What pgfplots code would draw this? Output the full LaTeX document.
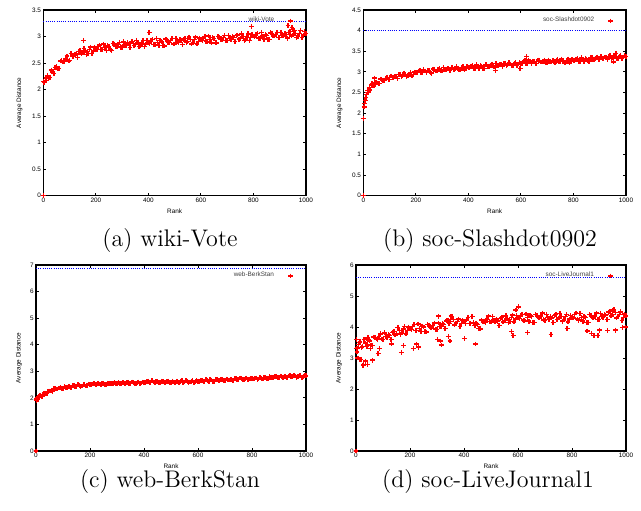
\documentclass[border=0pt]{standalone}
\usepackage{fontspec}
\usepackage{pgfplots}
\pgfplotsset{compat=1.18}
\newfontfamily\hv{Liberation Sans}
\newcommand\tk{\hv\fontsize{3.2}{3.8}\selectfont}
\newcommand\capfont{\fontsize{12}{14}\selectfont}
\pgfplotsset{
  gp/.style={
    scale only axis,
    anchor=south west,
    xmin=0, xmax=1000, ymin=0,
    xtick={0,200,...,1000},
    tick align=inside,
    major tick length=1.5pt,
    axis line style={line width=0.6pt},
    tick style={black, line width=0.5pt},
    tick label style={font=\tk, inner sep=1pt},
    label style={font=\tk},
    /pgf/number format/assume math mode=true,
    /pgf/number format/1000 sep={},
    xlabel={Rank},
    ylabel={Average Distance},
    legend plot pos=right,
    legend cell align=right,
    legend style={draw=none, fill=none, font=\tk, text=black!75, anchor=north east, inner sep=1pt,
      row sep=0pt, nodes={inner sep=1pt}, /tikz/column 1/.style={column sep=6pt}},
    clip=false,
  },
  pts/.style={only marks, mark=+, mark size=1.2pt, color=red,
    mark options={solid, draw=red, line width=0.7pt}},
  ref/.style={blue, line width=0.5pt, dash pattern=on 0.5pt off 0.6pt, forget plot},
}
\begin{document}
\begin{tikzpicture}
\path[use as bounding box] (0,0) rectangle (320.5pt,255pt);

% (a) wiki-Vote
\begin{axis}[gp, at={(21.67pt,157.15pt)}, width=131.3pt, height=92.85pt,
  ymax=3.5, ytick={0,0.5,...,3.5},
  ylabel style={at={(axis description cs:-0.091,0.5)}, anchor=center},
  xlabel style={at={(axis description cs:0.5,-0.085)}, anchor=center},
  legend style={at={(axis description cs:0.96,0.985)}}]
\addplot[ref] coordinates {(0,3.29) (1000,3.29)};
\addplot[pts] coordinates {
(0,0) (1,2.15) (10,2.22) (20,2.21) (30,2.37) (40,2.30) (50,2.43) (60,2.40)
(70,2.55) (80,2.53) (90,2.63) (100,2.55) (110,2.62) (120,2.67) (130,2.60) (140,2.73) (150,2.69)
(160,2.73) (170,2.68) (180,2.80) (190,2.73) (200,2.77) (210,2.81) (220,2.75) (230,2.86)
(240,2.74) (250,2.81) (260,2.74) (270,2.86) (280,2.81) (290,2.89) (300,2.80) (310,2.84) (320,2.88)
(330,2.79) (340,2.91) (350,2.85) (360,2.88) (370,2.83) (380,2.93) (390,2.86) (400,2.89)
(410,2.92) (420,2.85) (430,2.96) (440,2.83) (450,2.90) (460,2.82) (470,2.94) (480,2.89) (490,2.96)
(500,2.86) (510,2.90) (520,2.94) (530,2.85) (540,2.96) (550,2.91) (560,2.94) (570,2.88) (580,2.99)
(590,2.91) (600,2.94) (610,2.97) (620,2.91) (630,3.01) (640,2.88) (650,2.96) (660,2.88) (670,2.99)
(680,2.95) (690,3.02) (700,2.92) (710,2.96) (720,3.00) (730,2.91) (740,3.03) (750,2.97) (760,3.00)
(770,2.95) (780,3.05) (790,2.98) (800,3.01) (810,3.04) (820,2.97) (830,3.08) (840,2.95)
(850,3.02) (860,2.94) (870,3.06) (880,3.01) (890,3.08) (900,2.98) (910,3.02) (920,3.06) (930,2.97)
(940,3.09) (950,3.03) (960,3.06) (970,3.00) (980,3.11) (990,3.03) (1000,3.06)
(5,2.14) (15,2.27) (25,2.23) (35,2.33) (45,2.42) (55,2.39) (65,2.54) (75,2.52) (85,2.58) (95,2.54)
(105,2.68) (115,2.62) (125,2.67) (135,2.72) (145,2.67) (155,2.78) (165,2.66) (175,2.75) (185,2.68) (195,2.80)
(205,2.76) (215,2.84) (225,2.75) (235,2.80) (245,2.83) (255,2.75) (265,2.87) (275,2.81) (285,2.85) (295,2.80)
(305,2.90) (315,2.83) (325,2.86) (335,2.90) (345,2.83) (355,2.93) (365,2.81) (375,2.88) (385,2.81) (395,2.92)
(405,2.87) (415,2.94) (425,2.85) (435,2.89) (445,2.92) (455,2.83) (465,2.95) (475,2.89) (485,2.92) (495,2.86)
(505,2.96) (515,2.89) (525,2.92) (535,2.95) (545,2.89) (555,2.99) (565,2.86) (575,2.94) (585,2.86) (595,2.97)
(605,2.92) (615,3.00) (625,2.90) (635,2.94) (645,2.98) (655,2.89) (665,3.00) (675,2.95) (685,2.98) (695,2.92)
(705,3.02) (715,2.95) (725,2.98) (735,3.02) (745,2.95) (755,3.05) (765,2.93) (775,3.00) (785,2.93) (795,3.04)
(805,2.99) (815,3.06) (825,2.97) (835,3.01) (845,3.04) (855,2.95) (865,3.07) (875,3.01) (885,3.04) (895,2.98)
(905,3.08) (915,3.01) (925,3.04) (935,3.08) (945,3.01) (955,3.11) (965,2.98) (975,3.06) (985,2.98) (995,3.09)
(152,2.93) (403,3.08) (792,3.19) (932,3.21) (947,3.17) (3,2.13) (13,2.17)
};
\addlegendentry{wiki-Vote}
\end{axis}

% (b) soc-Slashdot0902
\begin{axis}[gp, at={(181.67pt,157.15pt)}, width=131.3pt, height=92.85pt,
  ymax=4.5, ytick={0,0.5,...,4.5},
  ylabel style={at={(axis description cs:-0.091,0.5)}, anchor=center},
  xlabel style={at={(axis description cs:0.5,-0.085)}, anchor=center},
  legend style={at={(axis description cs:0.96,0.985)}}]
\addplot[ref] coordinates {(0,4.0) (1000,4.0)};
\addplot[pts] coordinates {
(0,0) (1,1.87) (3,2.15) (7,2.30) (13,2.45) (17,2.55) (23,2.62) (33,2.72) (42,2.85)
(10,2.38) (20,2.50) (30,2.68) (40,2.66) (50,2.75) (60,2.72) (70,2.82) (80,2.80) (90,2.87) (100,2.82)
(110,2.86) (120,2.89) (130,2.84) (140,2.94) (150,2.90) (160,2.93) (170,2.90) (180,2.98) (190,2.94)
(200,2.98) (210,3.02) (220,2.98) (230,3.06) (240,2.98) (250,3.03) (260,2.97) (270,3.06) (280,3.02)
(290,3.08) (300,3.02) (310,3.06) (320,3.08) (330,3.03) (340,3.11) (350,3.07) (360,3.09) (370,3.06)
(380,3.13) (390,3.09) (400,3.11) (410,3.14) (420,3.09) (430,3.17) (440,3.08) (450,3.14) (460,3.08)
(470,3.17) (480,3.13) (490,3.19) (500,3.12) (510,3.16) (520,3.18) (530,3.13) (540,3.21)
(550,3.17) (560,3.19) (570,3.16) (580,3.23) (590,3.19) (600,3.21) (610,3.25) (620,3.21)
(630,3.29) (640,3.20) (650,3.25) (660,3.20) (670,3.28) (680,3.24) (690,3.29) (700,3.22)
(710,3.25) (720,3.27) (730,3.22) (740,3.30) (750,3.25) (760,3.27) (770,3.23) (780,3.31) (790,3.26)
(800,3.28) (810,3.31) (820,3.26) (830,3.34) (840,3.26) (850,3.31) (860,3.26) (870,3.34) (880,3.31)
(890,3.36) (900,3.30) (910,3.33) (920,3.36) (930,3.30) (940,3.39) (950,3.34) (960,3.36)
(970,3.33) (980,3.40) (990,3.36) (1000,3.38)
(5,2.24) (15,2.50) (25,2.56) (35,2.67) (45,2.74) (55,2.73) (65,2.83) (75,2.80) (85,2.84) (95,2.82)
(105,2.90) (115,2.86) (125,2.89) (135,2.93) (145,2.89) (155,2.97) (165,2.89) (175,2.95) (185,2.90) (195,3.00)
(205,2.98) (215,3.04) (225,2.98) (235,3.02) (245,3.04) (255,2.98) (265,3.07) (275,3.02) (285,3.05) (295,3.02)
(305,3.10) (315,3.05) (325,3.08) (335,3.10) (345,3.06) (355,3.13) (365,3.05) (375,3.10) (385,3.05) (395,3.13)
(405,3.10) (415,3.15) (425,3.09) (435,3.12) (445,3.15) (455,3.09) (465,3.18) (475,3.13) (485,3.16) (495,3.12)
(505,3.20) (515,3.15) (525,3.18) (535,3.20) (545,3.16) (555,3.23) (565,3.15) (575,3.20) (585,3.15) (595,3.23)
(605,3.21) (615,3.27) (625,3.21) (635,3.24) (645,3.26) (655,3.21) (665,3.29) (675,3.24) (685,3.26) (695,3.22)
(705,3.29) (715,3.24) (725,3.27) (735,3.29) (745,3.24) (755,3.31) (765,3.22) (775,3.28) (785,3.22) (795,3.30)
(805,3.27) (815,3.32) (825,3.26) (835,3.30) (845,3.32) (855,3.27) (865,3.35) (875,3.31) (885,3.33) (895,3.30)
(905,3.37) (915,3.33) (925,3.35) (935,3.38) (945,3.33) (955,3.40) (965,3.32) (975,3.37) (985,3.32) (995,3.40)
(503,3.03) (597,3.08) (622,3.37) (952,3.24) (962,3.45)
};
\addlegendentry{soc-Slashdot0902}
\end{axis}

% (c) web-BerkStan
\begin{axis}[gp, at={(18pt,29.5pt)}, width=135pt, height=93pt,
  ymax=7, ytick={0,1,...,7},
  ylabel style={at={(axis description cs:-0.063,0.5)}, anchor=center},
  xlabel style={at={(axis description cs:0.5,-0.08)}, anchor=center},
  legend style={at={(axis description cs:0.96,0.985)}}]
\addplot[ref] coordinates {(0,6.88) (1000,6.88)};
\addplot[pts] coordinates {
(0,0) (1,1.90) (3,1.95) (7,1.93) (13,2.10) (23,2.05)
(10,2.04) (20,2.06) (30,2.18) (40,2.17) (50,2.26) (60,2.25) (70,2.34) (80,2.33) (90,2.39) (100,2.36)
(110,2.40) (120,2.43) (130,2.40) (140,2.47) (150,2.44) (160,2.47) (170,2.45) (180,2.51) (190,2.48)
(200,2.51) (210,2.52) (220,2.49) (230,2.55) (240,2.49) (250,2.53) (260,2.49) (270,2.55) (280,2.53)
(290,2.57) (300,2.53) (310,2.55) (320,2.57) (330,2.53) (340,2.59) (350,2.55) (360,2.57) (370,2.55)
(380,2.60) (390,2.56) (400,2.59) (410,2.61) (420,2.58) (430,2.65) (440,2.57) (450,2.61) (460,2.56)
(470,2.62) (480,2.59) (490,2.63) (500,2.58) (510,2.60) (520,2.62) (530,2.58) (540,2.64) (550,2.60)
(560,2.62) (570,2.60) (580,2.65) (590,2.61) (600,2.63) (610,2.64) (620,2.61) (630,2.68) (640,2.62)
(650,2.67) (660,2.62) (670,2.69) (680,2.66) (690,2.70) (700,2.66) (710,2.68) (720,2.70) (730,2.66)
(740,2.73) (750,2.69) (760,2.72) (770,2.69) (780,2.75) (790,2.71) (800,2.73) (810,2.74) (820,2.70)
(830,2.77) (840,2.71) (850,2.76) (860,2.71) (870,2.78) (880,2.76) (890,2.81) (900,2.76) (910,2.79)
(920,2.81) (930,2.77) (940,2.83) (950,2.80) (960,2.82) (970,2.79) (980,2.85) (990,2.81) (1000,2.83)
(5,1.99) (15,2.08) (25,2.09) (35,2.17) (45,2.25) (55,2.26) (65,2.35) (75,2.33) (85,2.37) (95,2.36)
(105,2.43) (115,2.40) (125,2.44) (135,2.46) (145,2.43) (155,2.50) (165,2.44) (175,2.49) (185,2.45) (195,2.52)
(205,2.49) (215,2.54) (225,2.49) (235,2.52) (245,2.54) (255,2.50) (265,2.56) (275,2.53) (285,2.55) (295,2.53)
(305,2.58) (315,2.54) (325,2.57) (335,2.58) (345,2.54) (355,2.60) (365,2.54) (375,2.58) (385,2.53) (395,2.60)
(405,2.58) (415,2.63) (425,2.59) (435,2.60) (445,2.62) (455,2.57) (465,2.63) (475,2.59) (485,2.61) (495,2.58)
(505,2.63) (515,2.59) (525,2.62) (535,2.63) (545,2.59) (555,2.65) (565,2.59) (575,2.63) (585,2.58) (595,2.64)
(605,2.61) (615,2.66) (625,2.62) (635,2.65) (645,2.68) (655,2.63) (665,2.70) (675,2.66) (685,2.68) (695,2.66)
(705,2.71) (715,2.67) (725,2.70) (735,2.72) (745,2.68) (755,2.75) (765,2.68) (775,2.73) (785,2.68) (795,2.74)
(805,2.71) (815,2.75) (825,2.71) (835,2.74) (845,2.77) (855,2.72) (865,2.79) (875,2.76) (885,2.79) (895,2.76)
(905,2.82) (915,2.78) (925,2.81) (935,2.82) (945,2.79) (955,2.85) (965,2.78) (975,2.83) (985,2.78) (995,2.84)
};
\addlegendentry{web-BerkStan}
\end{axis}

% (d) soc-LiveJournal1
\begin{axis}[gp, at={(178pt,29.5pt)}, width=135pt, height=93pt,
  ymax=6, ytick={0,1,...,6},
  ylabel style={at={(axis description cs:-0.063,0.5)}, anchor=center},
  xlabel style={at={(axis description cs:0.5,-0.08)}, anchor=center},
  legend style={at={(axis description cs:0.96,0.985)}}]
\addplot[ref] coordinates {(0,5.6) (1000,5.6)};
\addplot[pts] coordinates {
(0,0) (1,3.60) (3,3.30) (4,3.20) (7,3.00) (12,2.95) (14,3.50) (18,2.95) (26,2.75) (28,2.78)
(36,2.90) (42,2.80) (44,3.65) (54,3.30) (62,2.93) (82,3.15) (88,3.30) (132,3.45) (168,3.18)
(176,3.40) (212,3.30) (224,3.45) (232,3.35) (302,3.60) (306,4.35) (312,3.55) (316,3.42) (342,3.70)
(348,3.55) (352,4.35) (402,3.62) (442,3.45) (576,3.85) (582,3.72) (592,4.55) (602,4.65) (636,3.82)
(722,3.75) (782,3.95) (856,3.87) (872,3.80) (882,3.72) (896,3.72) (902,3.90) (932,3.88) (952,4.55)
(962,3.90) (986,3.98) (998,4.00)
(10,3.43) (20,3.34) (30,3.59) (40,3.37) (50,3.55) (60,3.41) (70,3.65) (80,3.59) (90,3.78) (100,3.60)
(110,3.70) (120,3.76) (130,3.59) (140,3.85) (150,3.79) (160,3.89) (170,3.81) (180,4.01) (190,3.88)
(200,3.94) (210,4.02) (220,3.89) (230,4.10) (240,3.85) (250,4.00) (260,3.84) (270,4.06) (280,3.97)
(290,4.13) (300,3.92) (310,4.02) (320,4.11) (330,3.95) (340,4.22) (350,4.17) (360,4.24) (370,4.11)
(380,4.26) (390,4.11) (400,4.16) (410,4.23) (420,4.12) (430,4.34) (440,4.04) (450,4.08) (460,3.94)
(470,4.19) (480,4.15) (490,4.35) (500,4.16) (510,4.22) (520,4.26) (530,4.05) (540,4.30) (550,4.21)
(560,4.26) (570,4.18) (580,4.39) (590,4.26) (600,4.31) (610,4.38) (620,4.22) (630,4.42) (640,4.19)
(650,4.33) (660,4.14) (670,4.37) (680,4.29) (690,4.45) (700,4.22) (710,4.30) (720,4.34) (730,4.15)
(740,4.40) (750,4.29) (760,4.34) (770,4.23) (780,4.41) (790,4.26) (800,4.31) (810,4.40) (820,4.26)
(830,4.44) (840,4.19) (850,4.31) (860,4.14) (870,4.37) (880,4.29) (890,4.45) (900,4.24) (910,4.33)
(920,4.41) (930,4.25) (940,4.50) (950,4.41) (960,4.46) (970,4.33) (980,4.49) (990,4.31) (1000,4.36)
(5,3.32) (15,3.53) (25,3.37) (35,3.48) (45,3.58) (55,3.42) (65,3.68) (75,3.61) (85,3.69) (95,3.61)
(105,3.81) (115,3.66) (125,3.73) (135,3.83) (145,3.74) (155,3.99) (165,3.77) (175,3.93) (185,3.78) (195,4.00)
(205,3.91) (215,4.08) (225,3.88) (235,3.96) (245,4.03) (255,3.85) (265,4.09) (275,3.99) (285,4.04) (295,3.93)
(305,4.13) (315,4.01) (325,4.09) (335,4.20) (345,4.12) (355,4.34) (365,4.07) (375,4.18) (385,4.01) (395,4.22)
(405,4.12) (415,4.31) (425,4.12) (435,4.15) (445,4.11) (455,3.95) (465,4.22) (475,4.17) (485,4.26) (495,4.17)
(505,4.33) (515,4.16) (525,4.19) (535,4.28) (545,4.16) (555,4.36) (565,4.14) (575,4.31) (585,4.16) (595,4.37)
(605,4.27) (615,4.41) (625,4.20) (635,4.30) (645,4.36) (655,4.15) (665,4.40) (675,4.31) (685,4.36) (695,4.23)
(705,4.41) (715,4.24) (725,4.29) (735,4.38) (745,4.24) (755,4.44) (765,4.19) (775,4.33) (785,4.16) (795,4.37)
(805,4.29) (815,4.45) (825,4.22) (835,4.30) (845,4.34) (855,4.15) (865,4.40) (875,4.31) (885,4.36) (895,4.25)
(905,4.44) (915,4.31) (925,4.39) (935,4.48) (945,4.36) (955,4.56) (965,4.29) (975,4.41) (985,4.21) (995,4.42)
};
\addlegendentry{soc-LiveJournal1}
\end{axis}

\node[font=\capfont, anchor=base] at (85pt,132pt) {(a) wiki-Vote};
\node[font=\capfont, anchor=base] at (245pt,132pt) {(b) soc-Slashdot0902};
\node[font=\capfont, anchor=base] at (85pt,11.25pt) {(c) web-BerkStan};
\node[font=\capfont, anchor=base] at (244pt,11.25pt) {(d) soc-LiveJournal1};
\end{tikzpicture}
\end{document}
